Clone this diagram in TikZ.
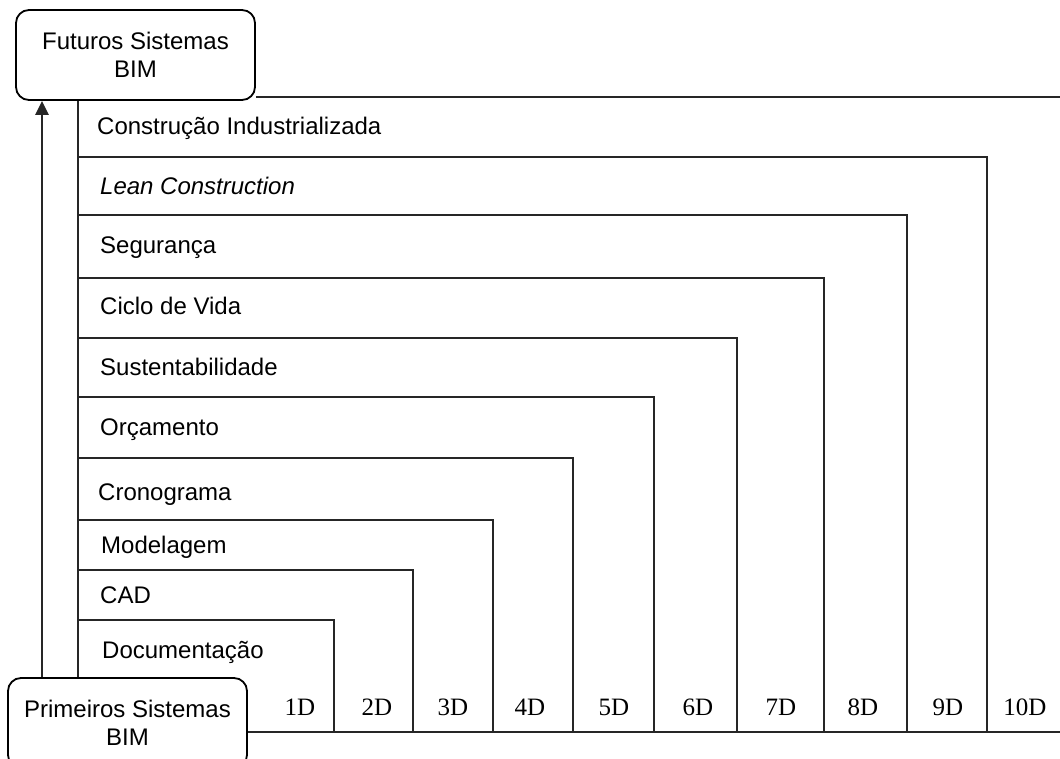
\documentclass[tikz,border=0pt]{standalone}
\usepackage{fontspec}
\setmainfont{Liberation Sans}
\newfontfamily\serifD{Liberation Serif}
\usetikzlibrary{arrows.meta}
\begin{document}
\begin{tikzpicture}[x=1pt,y=-1pt,
  ln/.style={line width=1.8pt, black!85},
  lbl/.style={anchor=base west, inner sep=0pt, font=\fontsize{24}{28}\selectfont},
  dimlbl/.style={anchor=base, inner sep=0pt, font=\serifD\fontsize{25}{28}\selectfont},
  sysbox/.style={draw, line width=1.8pt, rounded corners=13pt, fill=white, align=center,
     minimum width=239pt, minimum height=90pt, inner sep=0pt, font=\fontsize{24}{28}\selectfont}]
\useasboundingbox (0,0) rectangle (1060,759);
\fill[white] (0,0) rectangle (1060,759);
% nested L frames
\foreach \yy/\xx in {157/987, 215/907, 278/824, 338/737, 397/654, 458/573, 520/493, 570/413, 620/334}
  \draw[ln] (78,\yy) -| (\xx,732);
% boxes
\node[sysbox] (fut) at (135.5,55) {Futuros Sistemas\\BIM};
\node[sysbox] (pri) at (127.5,723) {Primeiros Sistemas\\BIM};
\coordinate (tr) at (1060,97);
\coordinate (br) at (1060,732);
\coordinate (vx) at (78,0);
\coordinate (ax) at (42,0);
\draw[ln] (fut.east |- tr) -- (tr);
\draw[ln] (pri.east |- br) -- (br);
\draw[line width=2.8pt, black!85] (fut.south -| vx) -- (pri.north -| vx);
\draw[line width=2.4pt, black!85, -{Triangle[length=14pt,width=13pt]}] (pri.north -| ax) -- (fut.south -| ax);
% row labels
\node[lbl] (l10) at (97,135) {Construção Industrializada};
\node[lbl] (l9) at (100,195) {\itshape Lean Construction};
\node[lbl] (l8) at (100,254) {Segurança};
\node[lbl] (l7) at (100,315) {Ciclo de Vida};
\node[lbl] (l6) at (100,375) {Sustentabilidade};
\node[lbl] (l5) at (100,435) {Orçamento};
\node[lbl] (l4) at (98,500) {Cronograma};
\node[lbl] (l3) at (101,553) {Modelagem};
\node[lbl] (l2) at (100,603) {CAD};
\node[lbl] (l1) at (102,658) {Documentação};
% dimension labels
\foreach \t/\xx [count=\i] in {1D/300, 2D/377, 3D/453, 4D/530, 5D/614, 6D/698, 7D/781, 8D/863, 9D/948, 10D/1025}
  \node[dimlbl] (d\i) at (\xx,715) {\t};
\end{tikzpicture}
\end{document}
